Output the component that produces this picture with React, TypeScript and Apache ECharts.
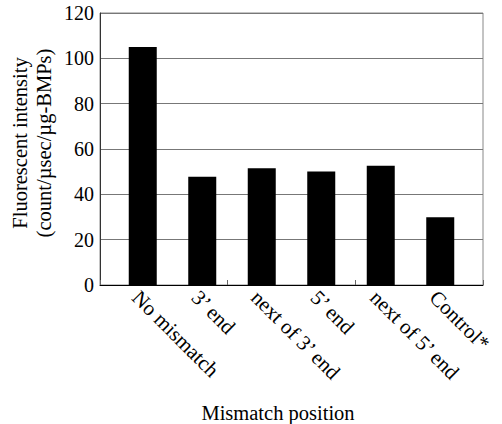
import React, { useEffect, useRef } from "react";
import * as echarts from "echarts";

const categories = ["No mismatch", "3\u2019 end", "next of 3\u2019 end", "5\u2019 end", "next of 5\u2019 end", "Control*"];
const values = [105, 47.8, 51.5, 50.1, 52.6, 29.9];
const yTicks = [0, 20, 40, 60, 80, 100, 120];
const yTitle = ["Fluorescent intensity", "(count/\u00b5sec/\u00b5g-BMPs)"];
const xTitle = "Mismatch position";

const FONT = "'Liberation Serif', 'Times New Roman', serif";

export default function App() {
  const ref = useRef<HTMLDivElement>(null);
  useEffect(() => {
    if (!ref.current) return;
    const chart = echarts.init(ref.current, undefined, { renderer: "svg" });
    chart.setOption({
      animation: false,
      backgroundColor: "#ffffff",
      grid: [
        { left: 100, right: 19, top: 13, bottom: 139, show: true, borderColor: "#888", borderWidth: 1, backgroundColor: "transparent" },
        { left: 113, right: 32, top: 13, bottom: 139 },
        { left: 106, right: 39, top: 13, bottom: 139 },
      ],
      xAxis: [
        {
          type: "category",
          gridIndex: 0,
          data: categories,
          axisLine: { show: true, lineStyle: { color: "#000", width: 1 } },
          axisTick: { show: true, inside: true, length: 5, lineStyle: { color: "#666" } },
          axisLabel: { show: false },
          splitLine: { show: false },
        },
        {
          type: "category",
          gridIndex: 1,
          data: categories,
          axisLine: { show: false },
          axisTick: { show: false },
          axisLabel: { show: false },
        },
        {
          type: "category",
          gridIndex: 2,
          data: categories,
          axisLine: { show: false },
          axisTick: { show: false },
          axisLabel: {
            show: true,
            rotate: -45,
            interval: 0,
            margin: 9,
            color: "#000",
            fontFamily: FONT,
            fontSize: 21,
          },
        },
      ],
      yAxis: [
        {
          type: "value",
          gridIndex: 0,
          min: 0,
          max: 120,
          interval: 20,
          axisLine: { show: true, lineStyle: { color: "#333", width: 1 } },
          axisTick: { show: false },
          axisLabel: {
            margin: 6,
            color: "#000",
            fontFamily: FONT,
            fontSize: 20,
            formatter: (v: number) => (yTicks.includes(v) ? String(v) : ""),
          },
          splitLine: { show: true, lineStyle: { color: "#777", width: 1 } },
        },
        { type: "value", gridIndex: 1, min: 0, max: 120, interval: 20, show: false },
        { type: "value", gridIndex: 2, min: 0, max: 120, interval: 20, show: false },
      ],
      series: [
        {
          type: "bar",
          xAxisIndex: 1,
          yAxisIndex: 1,
          data: values,
          barWidth: 28,
          itemStyle: { color: "#000" },
        },
      ],
      graphic: [
        {
          type: "text",
          x: 32,
          y: 143,
          rotation: Math.PI / 2,
          style: {
            text: yTitle.join("\n"),
            align: "center",
            verticalAlign: "middle",
            lineHeight: 24,
            fill: "#000",
            font: `20.5px ${FONT}`,
          },
        },
        {
          type: "text",
          x: 278,
          y: 413,
          style: {
            text: xTitle,
            align: "center",
            verticalAlign: "middle",
            fill: "#000",
            font: `20.5px ${FONT}`,
          },
        },
      ],
    });
    return () => chart.dispose();
  }, []);
  return (
    <div
      ref={ref}
      style={{ position: "absolute", left: 0, top: 0, width: 502, height: 424 }}
    />
  );
}
